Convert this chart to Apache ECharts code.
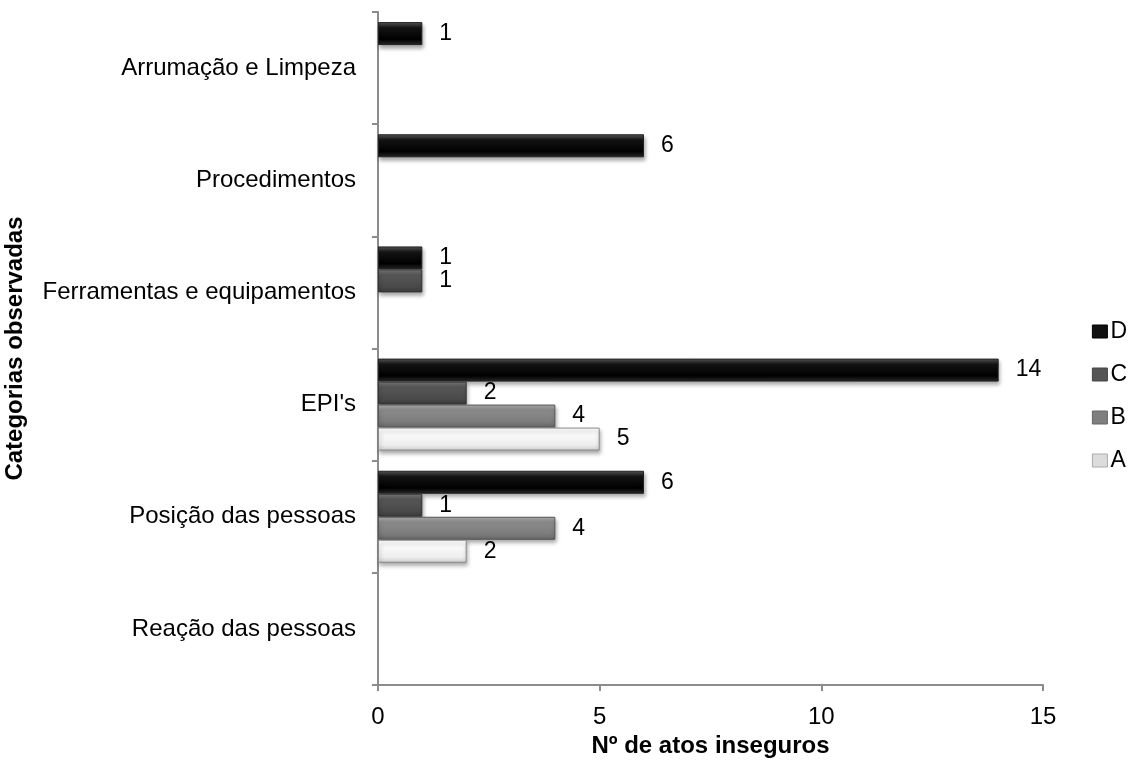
<!DOCTYPE html>
<html>
<head>
<meta charset="utf-8">
<script src="https://cdn.jsdelivr.net/npm/echarts@6/dist/echarts.min.js"></script>
<style>html,body{margin:0;padding:0;background:#fff}#c{width:1137px;height:767px}</style>
</head>
<body>
<div id="c"></div>
<script>
const categories = ['Reação das pessoas', 'Posição das pessoas', "EPI's", 'Ferramentas e equipamentos', 'Procedimentos', 'Arrumação e Limpeza'];
const seriesA = ['-', 2, 5, '-', '-', '-'];
const seriesB = ['-', 4, 4, '-', '-', '-'];
const seriesC = ['-', 1, 2, 1, '-', '-'];
const seriesD = ['-', 6, 14, 1, 6, 1];
const xTicks = [0, 5, 10, 15];

function grad(stops) {
  return new echarts.graphic.LinearGradient(0, 0, 0, 1, stops.map((c) => ({offset: c[0], color: c[1]})));
}
const styles = {
  A: {color: grad([[0,'#ffffff'],[0.25,'#fbfbfb'],[0.75,'#eeeeee'],[1,'#cfcfcf']]), borderColor: '#8a8a8a', legend: '#dcdcdc'},
  B: {color: grad([[0,'#b0b0b0'],[0.25,'#8c8c8c'],[0.75,'#7c7c7c'],[1,'#666666']]), borderColor: '#555555', legend: '#7f7f7f'},
  C: {color: grad([[0,'#7a7a7a'],[0.25,'#575757'],[0.75,'#4a4a4a'],[1,'#3a3a3a']]), borderColor: '#333333', legend: '#555555'},
  D: {color: grad([[0,'#5a5a5a'],[0.25,'#141414'],[0.75,'#000000'],[1,'#2a2a2a']]), borderColor: '#222222', legend: '#111111'}
};

function mk(name, data) {
  const s = styles[name];
  return {
    name, type: 'bar', data,
    barGap: '0%', barCategoryGap: '18%',
    itemStyle: {color: s.color, borderColor: s.borderColor, borderWidth: 1,
      shadowColor: 'rgba(0,0,0,0.35)', shadowBlur: 4, shadowOffsetY: 3, shadowOffsetX: 1},
    label: {show: true, position: 'right', distance: 17, color: '#000', fontSize: 23, fontFamily: 'Liberation Sans, Arial, sans-serif'}
  };
}

const chart = echarts.init(document.getElementById('c'));
chart.setOption({
  animation: false,
  textStyle: {fontFamily: 'Liberation Sans, Arial, sans-serif'},
  grid: {left: 378, right: 94, top: 12, bottom: 82, containLabel: false, outerBoundsMode: 'none'},
  legend: {
    orient: 'vertical', right: 5, top: 315, itemWidth: 15, itemHeight: 13, itemGap: 20,
    icon: 'rect',
    data: [
      {name: 'D', itemStyle: {color: styles.D.legend, borderColor: '#000', borderWidth: 1}},
      {name: 'C', itemStyle: {color: styles.C.legend, borderColor: '#444', borderWidth: 1}},
      {name: 'B', itemStyle: {color: styles.B.legend, borderColor: '#666', borderWidth: 1}},
      {name: 'A', itemStyle: {color: styles.A.legend, borderColor: '#aaa', borderWidth: 1}}
    ],
    textStyle: {fontSize: 23, color: '#000', padding: [0,0,0,-2]}
  },
  xAxis: {
    type: 'value', min: 0, max: 15, interval: 5,
    name: 'Nº de atos inseguros', nameLocation: 'middle', nameGap: 48,
    nameTextStyle: {fontSize: 24, fontWeight: 'bold', color: '#000'},
    axisLine: {show: true, lineStyle: {color: '#8c8c8c', width: 2}},
    axisTick: {show: true, length: 6, lineStyle: {color: '#8c8c8c', width: 2}},
    axisLabel: {fontSize: 24, color: '#000', margin: 20, formatter: v => xTicks.includes(v) ? String(v) : ''},
    splitLine: {show: false}
  },
  yAxis: {
    type: 'category', data: categories,
    name: 'Categorias observadas', nameLocation: 'middle', nameGap: 351, nameRotate: 90,
    nameTextStyle: {fontSize: 24, fontWeight: 'bold', color: '#000'},
    axisLine: {show: true, lineStyle: {color: '#8c8c8c', width: 2}},
    axisTick: {show: true, length: 6, lineStyle: {color: '#8c8c8c', width: 2}},
    axisLabel: {fontSize: 24, color: '#000', margin: 22}
  },
  series: [mk('D', seriesD), mk('C', seriesC), mk('B', seriesB), mk('A', seriesA)]
});
</script>
</body>
</html>
